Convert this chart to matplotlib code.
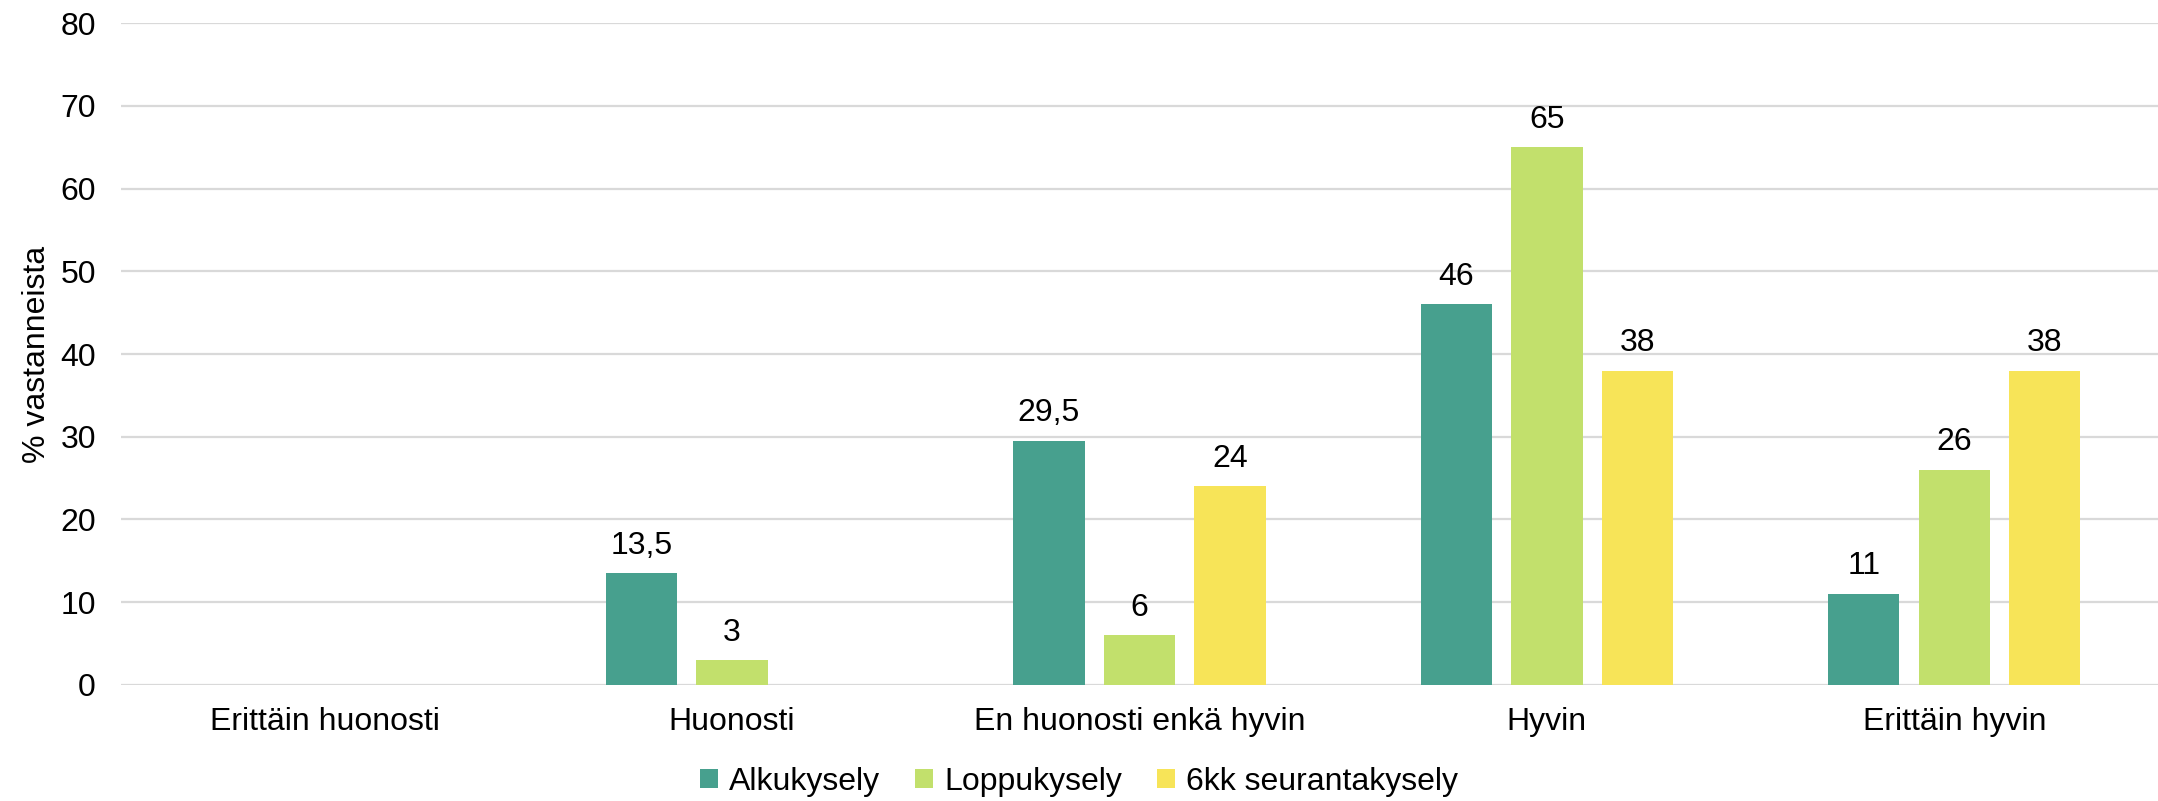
import numpy as np
import matplotlib.pyplot as plt

plt.rcParams['font.family'] = ['Liberation Sans', 'DejaVu Sans']

categories = ["Erittäin huonosti", "Huonosti", "En huonosti enkä hyvin", "Hyvin", "Erittäin hyvin"]
series_names = ["Alkukysely", "Loppukysely", "6kk seurantakysely"]
alku = [np.nan, 13.5, 29.5, 46, 11]
loppu = [np.nan, 3, 6, 65, 26]
seuranta = [np.nan, np.nan, 24, 38, 38]
colors = ["#47A08E", "#C2E06C", "#F7E458"]

fs = 23

fig = plt.figure(figsize=(21.58, 8.01), dpi=100)
ax = fig.add_axes([0.056, 0.145, 0.944, 0.826])

x = np.arange(len(categories))
w = 0.175
step = 0.222
for i, (vals, name, c) in enumerate(zip([alku, loppu, seuranta], series_names, colors)):
    pos = x + (i - 1) * step
    ax.bar(pos, vals, width=w, color=c, label=name, zorder=3)
    for p, v in zip(pos, vals):
        if np.isnan(v):
            continue
        txt = ("%g" % v).replace(".", ",")
        ax.annotate(txt, (p, v), xytext=(0, 9), textcoords="offset points",
                    ha="center", va="bottom", fontsize=fs, color="#000000")

ax.set_xlim(-0.5, len(categories) - 0.5)
ax.set_ylim(0, 80)
ax.set_yticks(range(0, 81, 10))
ax.set_xticks(x)
ax.set_xticklabels(categories)
ax.tick_params(axis="both", length=0, labelsize=fs, colors="#000000")
ax.tick_params(axis="y", pad=18)
ax.tick_params(axis="x", pad=16)
ax.yaxis.grid(True, color="#D9D9D9", linewidth=1.6, zorder=0)
ax.set_axisbelow(True)
for s in ax.spines.values():
    s.set_visible(False)
ax.set_ylabel("% vastanneista", fontsize=fs, labelpad=6)

fig.legend(loc="lower center", bbox_to_anchor=(0.5, -0.031), ncol=3, frameon=False,
           fontsize=fs, handlelength=0.55, handleheight=0.55, handletextpad=0.35,
           columnspacing=1.1)

fig.savefig("out.png", dpi=100)
